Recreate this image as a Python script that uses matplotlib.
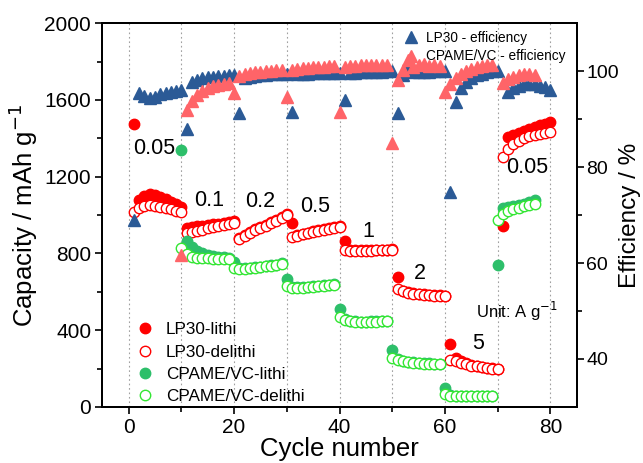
import numpy as np
import matplotlib
matplotlib.use("Agg")
import matplotlib.pyplot as plt

plt.rcParams['font.family'] = ['Liberation Sans', 'DejaVu Sans']
nan = np.nan

cycles = np.arange(1, 81)

lp30_lithi = [
    1474, 1078, 1100, 1108, 1102, 1092, 1082, 1070, 1056, 1040,
    935, 938, 941, 944, 947, 951, 955, 959, 963, 968,
    880, 896, 911, 925, 938, 950, 962, 975, 990, 1005,
    960, 896, 903, 909, 915, 921, 926, 931, 936, 942,
    866, 817, 817, 817, 817, 817, 818, 819, 820, 822,
    675, 606, 598, 593, 590, 587, 585, 583, 582, 580,
    326, 254, 239, 228, 220, 214, 209, 205, 201, 198,
    945, 1405, 1418, 1430, 1440, 1450, 1460, 1468, 1476, 1485]

lp30_delithi = [
    1017, 1038, 1048, 1052, 1048, 1042, 1036, 1030, 1022, 1015,
    905, 912, 918, 924, 930, 936, 942, 948, 954, 960,
    873, 890, 906, 920, 933, 945, 957, 970, 985, 1000,
    884, 893, 900, 906, 912, 918, 923, 928, 933, 939,
    818, 815, 815, 815, 815, 815, 816, 817, 818, 820,
    615, 603, 595, 590, 587, 584, 582, 580, 579, 578,
    245, 238, 230, 222, 216, 211, 206, 202, 199, 197,
    1300, 1345, 1370, 1388, 1400, 1410, 1418, 1424, 1430, 1435]

cp_lithi = [nan] * 9 + [
    1340,
    865, 835, 815, 800, 790, 785, 782, 780, 778,
    757,
    724, 722, 724, 727, 730, 734, 738, 742, 748,
    665,
    624, 623, 625, 627, 629, 631, 633, 636, 640,
    509,
    456, 448, 446, 445, 445, 446, 447, 448, 450,
    297,
    250, 241, 235, 232, 230, 228, 227, 226, 225,
    100,
    62, 59, 58, 57, 57, 56, 56, 56, 55,
    740,
    1035, 1040, 1046, 1053, 1060, 1068, 1078] + [nan] * 3

cp_delithi = [nan] * 9 + [
    826,
    796, 784, 778, 775, 774, 773, 773, 773, 773,
    722,
    718, 719, 722, 725, 728, 732, 736, 740, 745,
    628,
    620, 620, 622, 624, 626, 628, 630, 633, 637,
    470,
    452, 446, 444, 443, 443, 444, 445, 446, 448,
    255,
    245, 238, 233, 230, 228, 226, 225, 224, 223,
    68,
    58, 57, 56, 56, 55, 55, 55, 55, 55,
    975,
    1008, 1020, 1030, 1038, 1045, 1052, 1058] + [nan] * 3

lp30_eff = [
    69.0, 95.5, 94.8, 94.3, 94.6, 95.2, 95.4, 95.6, 95.8, 96.0,
    87.9, 97.8, 98.2, 98.5, 98.7, 98.8, 98.9, 99.0, 99.1, 99.2,
    91.3, 98.6, 98.8, 99.0, 99.1, 99.2, 99.3, 99.3, 99.4, 99.4,
    91.5, 99.4, 99.5, 99.5, 99.6, 99.6, 99.6, 99.7, 99.7, 99.7,
    94.0, 99.6, 99.7, 99.8, 99.8, 99.9, 99.9, 99.9, 100.0, 100.0,
    91.3, 99.2, 100.6, 99.8, 99.8, 99.9, 99.9, 100.0, 100.0, 100.0,
    74.9, 93.6, 96.4, 97.8, 98.6, 99.1, 99.5, 99.8, 100.0, 100.1,
    nan, 95.7, 96.5, 97.0, 97.3, 97.4, 97.3, 97.0, 96.6, 96.0]

cp_eff = [nan] * 9 + [
    61.7,
    92.0, 93.8, 95.0, 95.8, 96.4, 96.8, 97.1, 97.3, 97.5,
    95.5,
    99.0, 99.4, 99.6, 99.8, 99.9, 100.0, 100.1, 100.2, 100.3,
    94.6,
    100.3, 100.5, 100.6, 100.7, 100.8, 100.9, 100.9, 101.0, 101.0,
    91.5,
    100.8, 101.0, 101.1, 101.2, 101.2, 101.2, 101.3, 101.3, 101.3,
    85.0,
    98.1, 100.2, 102.3, 100.8, 101.2, 101.5, 101.0, 101.3, 101.0,
    95.7,
    97.4, 98.6, 99.5, 100.1, 100.5, 100.8, 101.0, 101.2, 101.3,
    nan,
    97.5, 98.3, 98.8, 99.1, 99.3, 99.3, 99.2] + [nan] * 3

rate_labels = ["0.05", "0.1", "0.2", "0.5", "1", "2", "5", "0.05"]
rate_label_x = [4.8, 15.3, 25.0, 35.4, 45.4, 55.2, 66.2, 75.6]
rate_label_y = [1349, 1078, 1070, 1043, 913, 696, 332, 1250]

RED = "#ff0000"
GREEN_F = "#2dbf6a"
GREEN_O = "#33e633"
BLUE = "#2b5a96"
PINK = "#ff6468"

fig = plt.figure(figsize=(6.43, 4.63), dpi=100)
ax = fig.add_axes([0.159, 0.121, 0.738, 0.829])
ax2 = ax.twinx()

for xv in range(0, 81, 10):
    ax.axvline(xv, color="#a0a0a0", ls=(0, (1.5, 2.5)), lw=0.8, zorder=0)

ms = 7.5
ax.plot(cycles, lp30_lithi, 'o', color=RED, ms=ms, mec=RED, label="LP30-lithi", zorder=3)
ax.plot(cycles, lp30_delithi, 'o', mfc="white", mec=RED, mew=1.0, ms=ms, label="LP30-delithi", zorder=3)
ax.plot(cycles, cp_lithi, 'o', color=GREEN_F, ms=ms, mec=GREEN_F, label="CPAME/VC-lithi", zorder=3)
ax.plot(cycles, cp_delithi, 'o', mfc="white", mec=GREEN_O, mew=1.0, ms=ms, label="CPAME/VC-delithi", zorder=3)

ax2.plot(cycles, lp30_eff, '^', color=BLUE, ms=8.5, mec=BLUE, label="LP30 - efficiency")
ax2.plot(cycles, cp_eff, '^', color=PINK, ms=8.5, mec=PINK, label="CPAME/VC - efficiency")

for t, xv, yv in zip(rate_labels, rate_label_x, rate_label_y):
    ax.text(xv, yv, t, fontsize=15.5, ha="center", va="center")
ax.text(73.6, 497, "Unit: A g$^{-1}$", fontsize=12, ha="center", va="center")

ax.set_xlim(-5, 85)
ax.set_ylim(0, 2000)
ax2.set_ylim(30, 110)

ax.set_xticks(range(0, 81, 20))
ax.set_xticks(range(10, 81, 20), minor=True)
ax.set_yticks(range(0, 2001, 400))
ax.set_yticks(range(200, 2001, 400), minor=True)
ax2.set_yticks([40, 60, 80, 100])
ax2.set_yticks([50, 70, 90], minor=True)

for a in (ax, ax2):
    a.tick_params(which="major", direction="out", length=5, width=1.2)
    a.tick_params(which="minor", direction="out", length=3.5, width=1.2)
    for s in a.spines.values():
        s.set_linewidth(1.4)
ax.tick_params(which="major", labelsize=15, pad=3)
ax2.tick_params(which="major", labelsize=14, pad=2)

ax.set_xlabel("Cycle number", fontsize=18.5, labelpad=0)
ax.set_ylabel("Capacity / mAh g$^{-1}$", fontsize=18.5, labelpad=3)
ax2.set_ylabel("Efficiency / %", fontsize=17.5, labelpad=0)

leg1 = ax.legend(loc="upper left", bbox_to_anchor=(0.055, 0.238), frameon=False,
                 fontsize=12.3, handletextpad=0.6, labelspacing=0.42, borderaxespad=0,
                 handlelength=1.2)
leg2 = ax2.legend(loc="upper left", bbox_to_anchor=(0.622, 0.995), frameon=False,
                  fontsize=9.8, handletextpad=0.5, labelspacing=0.35, borderaxespad=0,
                  handlelength=1.2)

fig.savefig("out.png", dpi=100)
